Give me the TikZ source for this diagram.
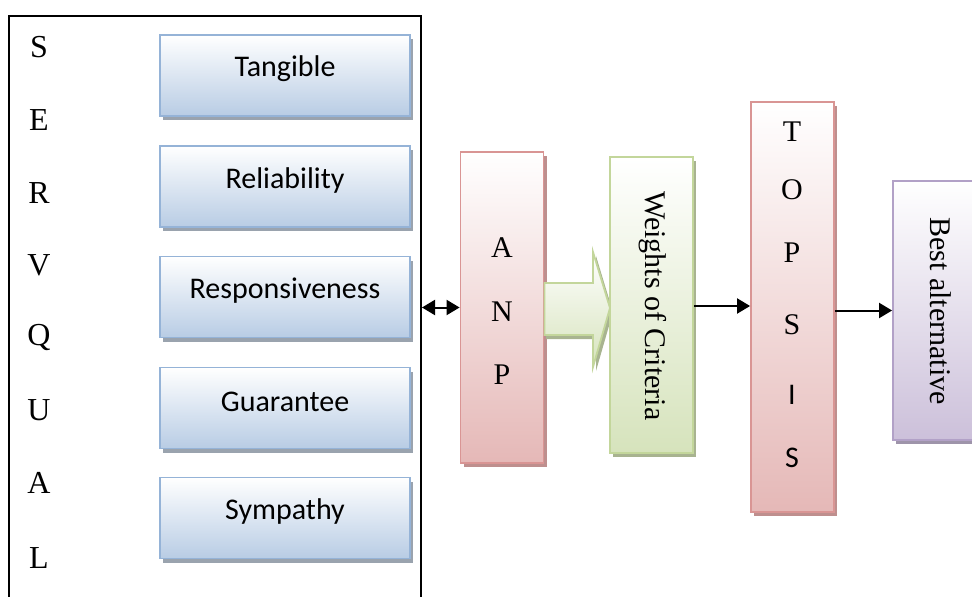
\documentclass[tikz,border=0pt]{standalone}
\usepackage{fontspec}
\setmainfont{Liberation Serif}
\newfontfamily\calib{Carlito}
\usetikzlibrary{arrows.meta,shadows,calc}
\definecolor{bluebd}{HTML}{95B3D7}
\definecolor{bluefl}{HTML}{B8CCE4}
\definecolor{redbd}{HTML}{D99594}
\definecolor{redfl}{HTML}{E5B8B7}
\definecolor{grnbd}{HTML}{C3D69B}
\definecolor{grnfl}{HTML}{D6E3BC}
\definecolor{purbd}{HTML}{B2A1C7}
\definecolor{purfl}{HTML}{CCC0DA}
\definecolor{shadowc}{HTML}{9AA3AE}
\tikzset{
  shd/.style={drop shadow={shadow xshift=3pt,shadow yshift=-4pt,fill=#1,opacity=1}},
  dimbox/.style={draw=bluebd,line width=1.8pt,top color=white,bottom color=bluefl,
    shd=shadowc,minimum width=250pt,minimum height=81pt,inner sep=0pt},
  dimtxt/.style={font=\calib\fontsize{30}{34}\selectfont,inner sep=0pt},
  letter/.style={font=\fontsize{32}{36}\selectfont,inner sep=0pt},
  letr/.style={font=\fontsize{30}{34}\selectfont,inner sep=0pt},
  letc/.style={font=\calib\fontsize{30}{34}\selectfont,inner sep=0pt},
  vbox/.style={line width=1.8pt,top color=white,minimum width=83pt,inner sep=0pt},
  conn/.style={line width=2pt,-{Triangle[length=13pt,width=15pt]}},
  dconn/.style={line width=2pt,{Triangle[length=13pt,width=15pt]}-{Triangle[length=13pt,width=15pt]}},
}
\begin{document}
\begin{tikzpicture}[x=1pt,y=-1pt]
\useasboundingbox (0,0) rectangle (972,597);
\clip (0,0) rectangle (972,597);
% outer SERVQUAL box
\node[draw,line width=2pt,minimum width=412pt,minimum height=600pt,inner sep=0pt,anchor=north west] (servq) at (8,15) {};
\foreach \l/\y [count=\i] in {S/47,E/120,R/193,V/265,Q/337,U/410,A/483,L/558}
  \node[letter] (sl\i) at (39,\y) {\l};
% dimension boxes
\foreach \t/\y/\n in {Tangible/75.5/tan,Reliability/186.5/rel,Responsiveness/297/res,Guarantee/408/gua,Sympathy/518/sym}{
  \node[dimbox] (\n) at (285,\y) {};
  \node[dimtxt] (\n t) at ($(\n.north)+(0,35)$) {\t};
}
% ANP
\node[vbox,draw=redbd,bottom color=redfl,shd=redbd!70!gray,minimum height=311pt] (anp) at (502,307.5) {};
\node[letr] (anpA) at (502,248) {A};
\node[letr] (anpN) at (502,312) {N};
\node[letr] (anpP) at (502,375) {P};
% block arrow
\fill[grnbd!60!gray] (546,287) -- (596,287) -- (596,256) -- (613,312) -- (596,371) -- (596,339) -- (546,339) -- cycle;
\shade[top color=white,bottom color=grnfl,draw=grnbd,line width=1.8pt]
  (anp.east |- 0,283) -- (593,283) -- (593,252) -- (610,308) -- (593,367) -- (593,335) -- (anp.east |- 0,335) -- cycle;
% Weights
\node[vbox,draw=grnbd,bottom color=grnfl,shd=grnbd!60!gray,minimum height=296pt] (wts) at (651.5,305) {};
\node[letr,rotate=-90] (wtst) at (653,306) {Weights of Criteria};
% TOPSIS
\node[vbox,draw=redbd,bottom color=redfl,shd=redbd!70!gray,minimum height=410pt] (tps) at (792.5,307) {};
\node[letr] (t1) at (792,132) {T};
\node[letr] (t2) at (792,190) {O};
\node[letr] (t3) at (792,253) {P};
\node[letr] (t4) at (792,325) {S};
\node[letc] (t5) at (792,395) {I};
\node[letc] (t6) at (792,458) {S};
% Best alternative
\node[vbox,draw=purbd,bottom color=purfl,shd=purbd!60!gray,minimum height=259pt] (best) at (934.5,310.5) {};
\node[letr,rotate=-90] (bestt) at (941,311) {Best alternative};
% connectors
\draw[dconn] (anp.west -| servq.east) -- (anp.west);
\draw[conn] (wts.east |- 0,306) -- (tps.west |- 0,306);
\draw[conn] (tps.east |- best) -- (best.west);
\end{tikzpicture}
\end{document}
